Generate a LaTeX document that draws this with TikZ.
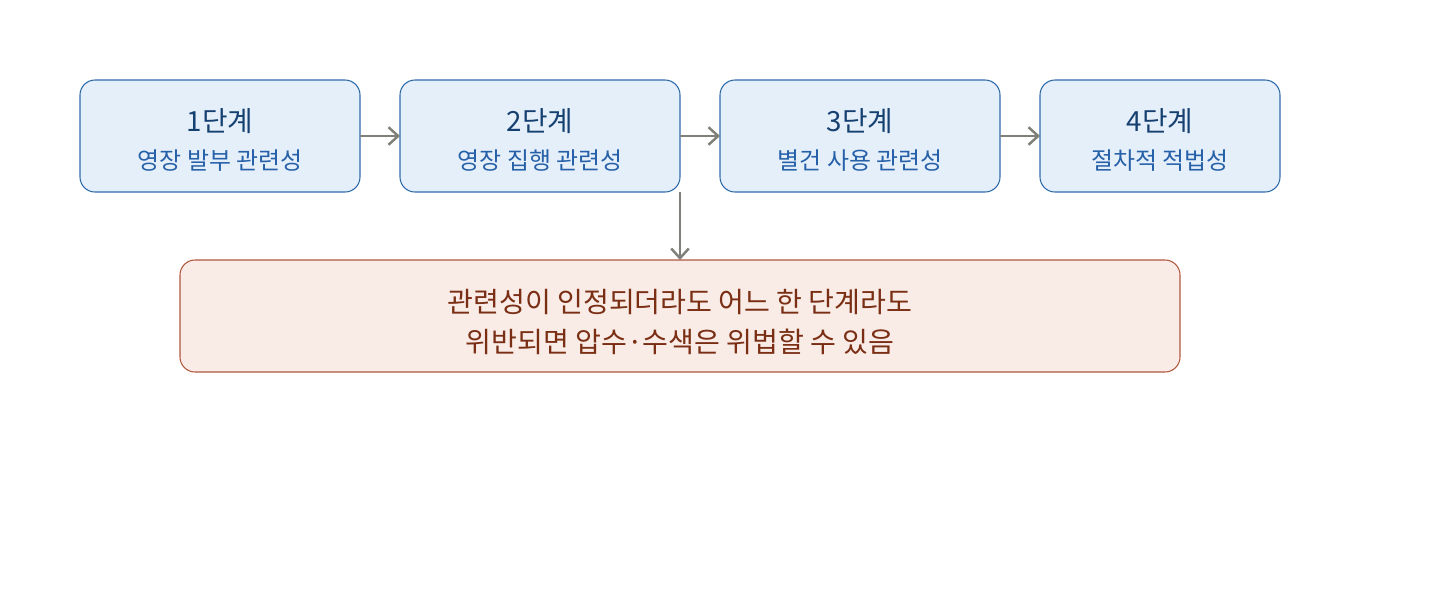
\documentclass[tikz,border=0pt]{standalone}
\usepackage{fontspec}
\setmainfont{Noto Sans CJK KR}
\definecolor{step_fill}{RGB}{228, 239, 250}
\definecolor{step_line}{RGB}{46, 104, 170}
\definecolor{step_title}{RGB}{22, 64, 112}
\definecolor{step_sub}{RGB}{38, 96, 168}
\definecolor{warn_fill}{RGB}{249, 235, 230}
\definecolor{warn_line}{RGB}{176, 86, 60}
\definecolor{warn_text}{RGB}{122, 46, 20}
\definecolor{link_gray}{RGB}{128, 128, 122}
\usetikzlibrary{arrows.meta, positioning}

\begin{document}
\begin{tikzpicture}[x=0.02cm, y=-0.02cm,
    stepbox/.style={draw=step_line, fill=step_fill, rounded corners=0.3cm, line width=0.6pt},
    warnbox/.style={draw=warn_line, fill=warn_fill, rounded corners=0.3cm, line width=0.6pt},
    link/.style={draw=link_gray, line width=1.4pt, -{Straight Barb[length=5.5pt, width=10pt]}}]
        % Rahmen
        \useasboundingbox (0, 0) rectangle (1440, 600);

        % Stufen
        \foreach \n/\xl/\xr/\sub in {1/80/360/영장 발부 관련성, 2/400/680/영장 집행 관련성,
                                   3/720/1000/별건 사용 관련성, 4/1040/1280/절차적 적법성} {
          \draw[stepbox] (\xl, 80) rectangle (\xr, 192);
          \coordinate (s\n w) at (\xl, 136);
          \coordinate (s\n e) at (\xr, 136);
          \node[text=step_title, font=\fontsize{15.8}{18}\selectfont] (t\n) at ({(\xl+\xr)/2}, 121) {\n{}단계};
          \node[text=step_sub, font=\fontsize{13.6}{16}\selectfont] (u\n) at ({(\xl+\xr)/2}, 161) {\sub};
        }

        % Pfeile zwischen Stufen
        \foreach \a/\b in {1/2, 2/3, 3/4} {
          \draw[link] (s\a e) -- (s\b w);
        }

        % Hinweis
        \draw[warnbox] (180, 260) rectangle (1180, 372);
        \coordinate (wn) at (680, 260);
        \node[align=center, text=warn_text, font=\fontsize{16}{22.5}\selectfont] (warn) at (680, 322)
              {관련성이 인정되더라도 어느 한 단계라도\\위반되면 압수·수색은 위법할 수 있음};
        \coordinate (s2s) at (680, 192);
        \draw[link] (s2s) -- (wn);
      \end{tikzpicture}
\end{document}
